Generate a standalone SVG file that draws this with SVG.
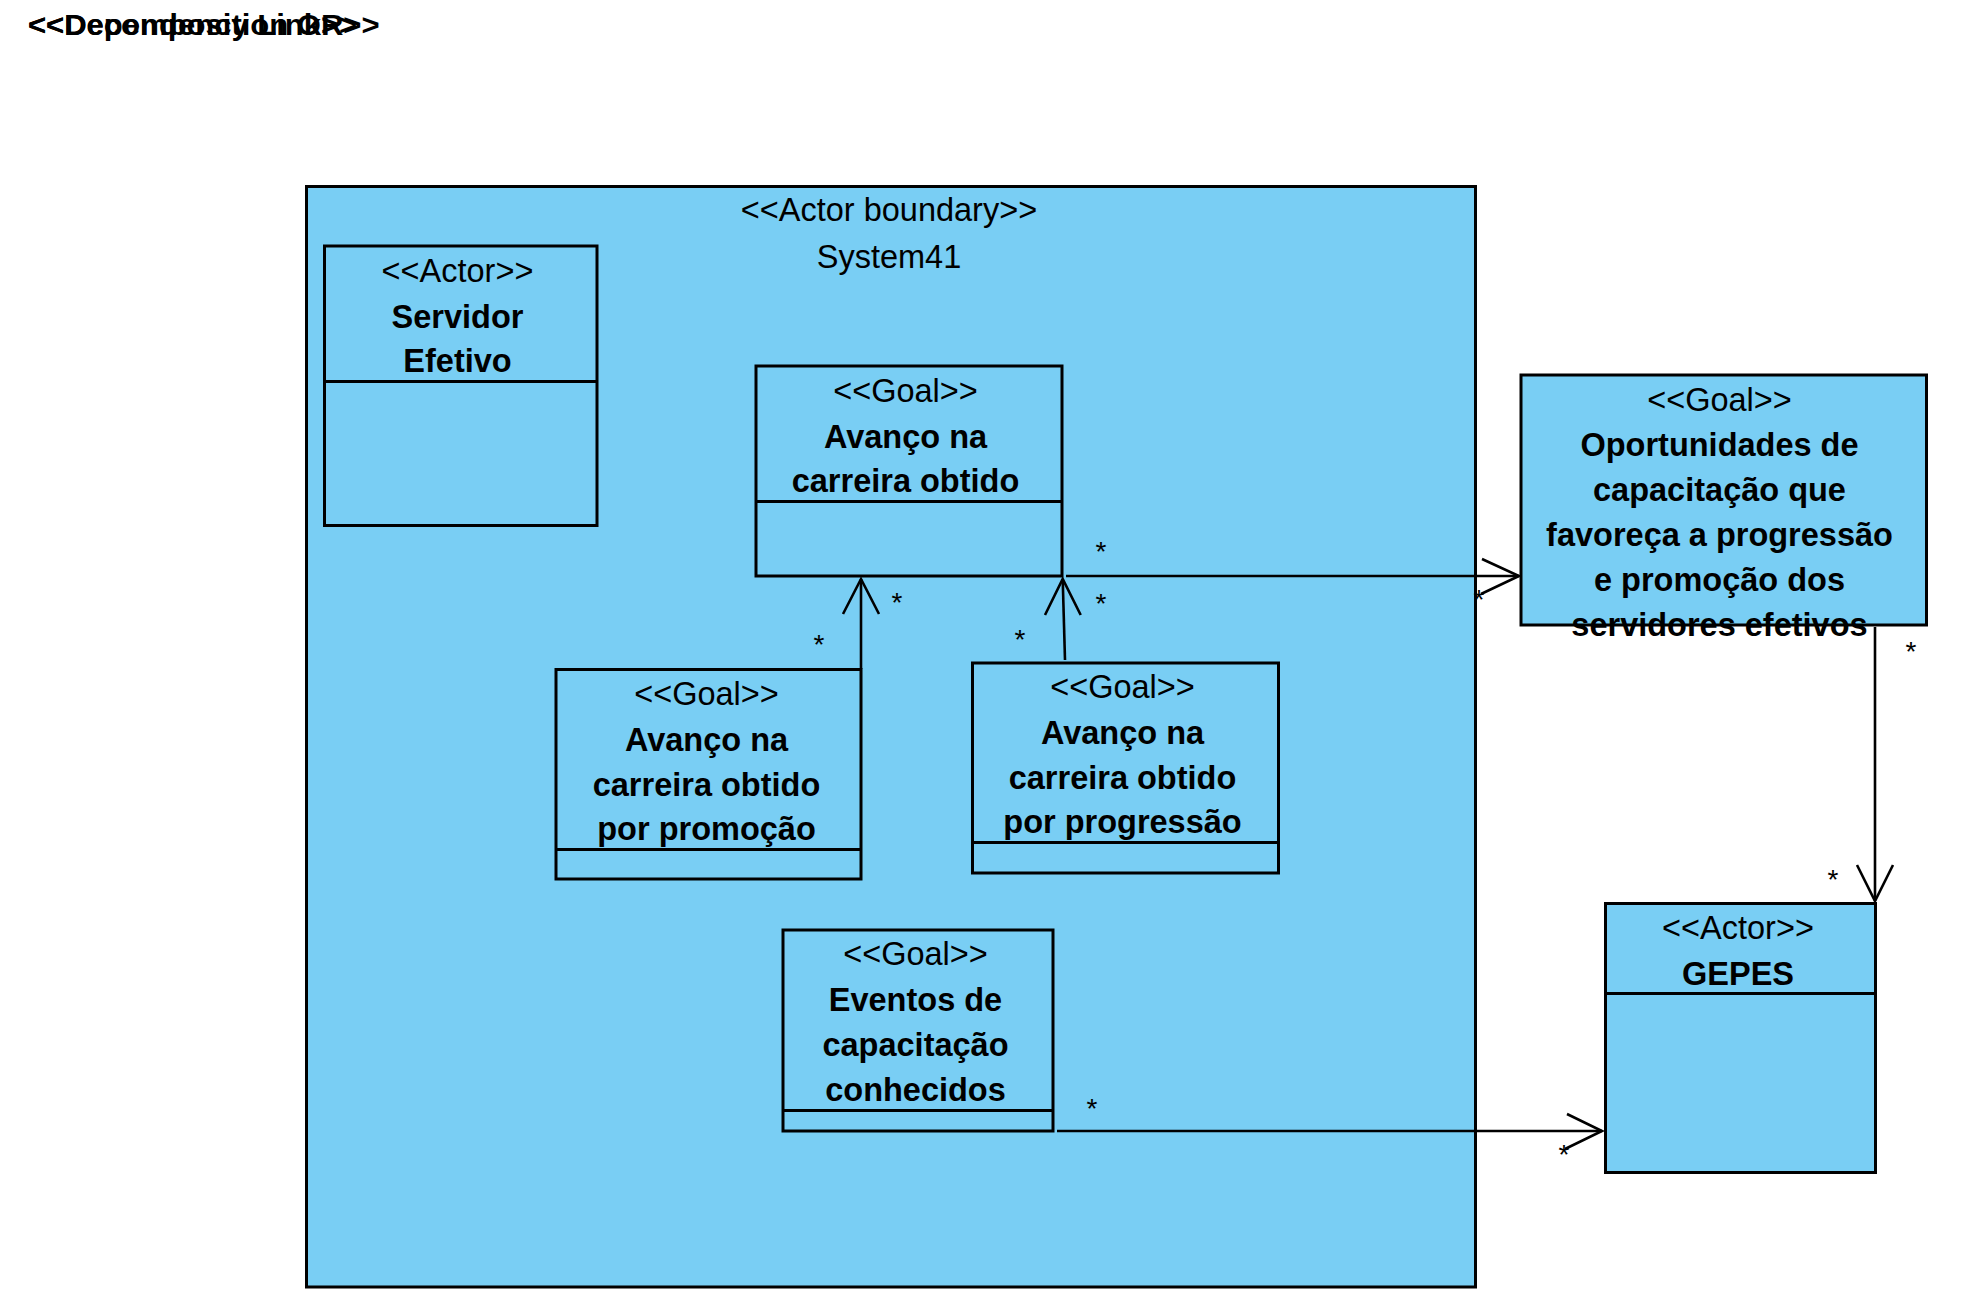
<svg xmlns="http://www.w3.org/2000/svg" width="1986" height="1302" viewBox="0 0 1986 1302">
<style>
.box{fill:#79CEF4;stroke:#000;stroke-width:3}
.div{stroke:#000;stroke-width:3;fill:none}
.st{font-family:"Liberation Sans",Arial,sans-serif;font-size:32.5px;text-anchor:middle;fill:#000}
.nm{font-family:"Liberation Sans",Arial,sans-serif;font-size:32.5px;font-weight:bold;text-anchor:middle;fill:#000}
.mul{font-family:"Liberation Sans",Arial,sans-serif;font-size:28px;text-anchor:middle;fill:#000}
.ln{stroke:#000;stroke-width:2.6;fill:none}
.ttl{font-family:"Liberation Sans",Arial,sans-serif;font-size:29px;font-weight:bold;fill:#000}
</style>
<rect width="1986" height="1302" fill="#fff"/>
<g id="legend" transform="translate(28,35) scale(1.07,1)">
<text class="ttl" x="0" y="0">&lt;&lt;Dependency Link&gt;&gt;</text>
<text class="ttl" x="0" y="0">&lt;&lt;Decomposition OR&gt;&gt;</text>
</g>
<g id="boundary">
<rect class="box" x="306.5" y="186.5" width="1169" height="1100.5"/>
<text class="st" x="889" y="221">&lt;&lt;Actor boundary&gt;&gt;</text>
<text class="st" x="889" y="268">System41</text>
</g>
<g id="servidor">
<rect class="box" x="324.5" y="246" width="272.5" height="279.5"/>
<line class="div" x1="324.5" y1="381.5" x2="597" y2="381.5"/>
<text class="st" x="457.5" y="282">&lt;&lt;Actor&gt;&gt;</text>
<text class="nm" x="457.5" y="328">Servidor</text>
<text class="nm" x="457.5" y="372">Efetivo</text>
</g>
<g id="goal-avanco">
<rect class="box" x="756" y="366" width="306" height="210"/>
<line class="div" x1="756" y1="501.5" x2="1062" y2="501.5"/>
<text class="st" x="905.5" y="402">&lt;&lt;Goal&gt;&gt;</text>
<text class="nm" x="905.5" y="447.5">Avanço na</text>
<text class="nm" x="905.5" y="492">carreira obtido</text>
</g>
<g id="goal-promocao">
<rect class="box" x="556" y="669.5" width="305" height="209.5"/>
<line class="div" x1="556" y1="849.5" x2="861" y2="849.5"/>
<text class="st" x="706.5" y="705">&lt;&lt;Goal&gt;&gt;</text>
<text class="nm" x="706.5" y="750.5">Avanço na</text>
<text class="nm" x="706.5" y="795.5">carreira obtido</text>
<text class="nm" x="706.5" y="839.5">por promoção</text>
</g>
<g id="goal-progressao">
<rect class="box" x="972.5" y="663" width="306" height="210"/>
<line class="div" x1="972.5" y1="842.5" x2="1278.5" y2="842.5"/>
<text class="st" x="1122.5" y="698">&lt;&lt;Goal&gt;&gt;</text>
<text class="nm" x="1122.5" y="743.5">Avanço na</text>
<text class="nm" x="1122.5" y="788.5">carreira obtido</text>
<text class="nm" x="1122.5" y="833">por progressão</text>
</g>
<g id="goal-eventos">
<rect class="box" x="783" y="930" width="270" height="201"/>
<line class="div" x1="783" y1="1110.5" x2="1053" y2="1110.5"/>
<text class="st" x="915.5" y="965">&lt;&lt;Goal&gt;&gt;</text>
<text class="nm" x="915.5" y="1011">Eventos de</text>
<text class="nm" x="915.5" y="1056">capacitação</text>
<text class="nm" x="915.5" y="1100.5">conhecidos</text>
</g>
<g id="goal-oportunidades">
<rect class="box" x="1521" y="375" width="405.5" height="250"/>
<text class="st" x="1719.5" y="411">&lt;&lt;Goal&gt;&gt;</text>
<text class="nm" x="1719.5" y="456">Oportunidades de</text>
<text class="nm" x="1719.5" y="501">capacitação que</text>
<text class="nm" x="1719.5" y="546">favoreça a progressão</text>
<text class="nm" x="1719.5" y="591">e promoção dos</text>
<text class="nm" x="1719.5" y="636">servidores efetivos</text>
</g>
<g id="gepes">
<rect class="box" x="1605.5" y="903.5" width="270" height="269"/>
<line class="div" x1="1605.5" y1="993.5" x2="1875.5" y2="993.5"/>
<text class="st" x="1738" y="938.5">&lt;&lt;Actor&gt;&gt;</text>
<text class="nm" x="1738" y="984.5">GEPES</text>
</g>
<g id="connectors">
<g id="mult">
<text class="mul" x="897" y="612">*</text>
<text class="mul" x="819" y="654">*</text>
<text class="mul" x="1101" y="613">*</text>
<text class="mul" x="1020" y="649">*</text>
<text class="mul" x="1101" y="561">*</text>
<text class="mul" x="1479" y="609">*</text>
<text class="mul" x="1911" y="661">*</text>
<text class="mul" x="1833" y="889">*</text>
<text class="mul" x="1092" y="1118">*</text>
<text class="mul" x="1564" y="1164">*</text>
</g>
<path class="ln" d="M861 669 L861 579"/>
<path class="ln" d="M843 614 L861 579 L879 614"/>
<path class="ln" d="M1065 660 L1062.7 579"/>
<path class="ln" d="M1045 615 L1062.7 579 L1080.7 615"/>
<path class="ln" d="M1066 576 L1519 576"/>
<path class="ln" d="M1482 559 L1519 576 L1481 594"/>
<path class="ln" d="M1875 627 L1875 901"/>
<path class="ln" d="M1857 865 L1875 901 L1893 865"/>
<path class="ln" d="M1057 1131 L1602 1131"/>
<path class="ln" d="M1567 1114 L1602 1131 L1565 1149"/>
</g>
</svg>
